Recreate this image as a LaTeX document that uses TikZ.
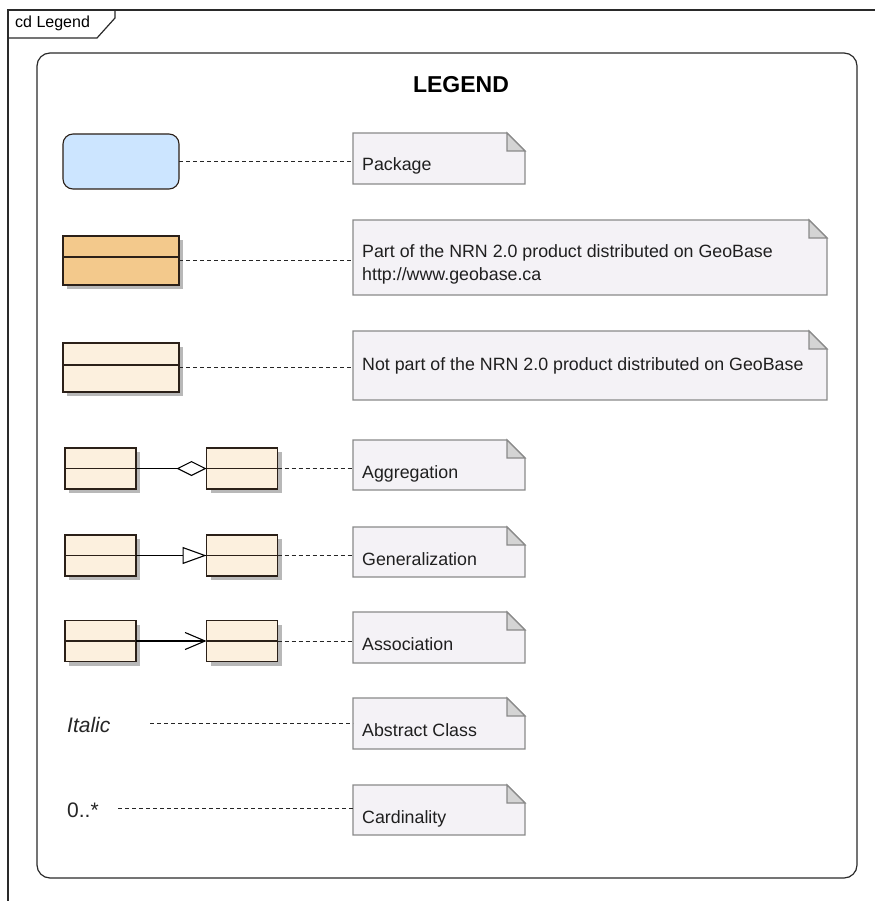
\documentclass[tikz,border=0pt]{standalone}
\usepackage{fontspec}
\setmainfont{Liberation Sans}
\usetikzlibrary{arrows.meta,shadows}
\definecolor{notefill}{HTML}{F4F2F6}
\definecolor{noteline}{HTML}{8A8A8A}
\definecolor{foldfill}{HTML}{D4D4D4}
\definecolor{pkgfill}{HTML}{CCE5FF}
\definecolor{orangefill}{HTML}{F3C98C}
\definecolor{creamfill}{HTML}{FCF0DE}
\definecolor{framecol}{HTML}{2A2A2A}
\definecolor{classline}{HTML}{2B2018}
\tikzset{
  frameline/.style={draw=framecol, line width=1.2pt},
  classbox/.style={draw=classline, line width=1.1pt, inner sep=0pt, outer sep=0pt,
     drop shadow={shadow xshift=4pt, shadow yshift=-4pt, fill=black!28, opacity=1}},
  bigclass/.style={classbox, minimum width=116pt, minimum height=49pt},
  smallclass/.style={classbox, fill=creamfill, minimum width=71pt, minimum height=41pt},
  pkgbox/.style={draw=classline, line width=1.1pt, fill=pkgfill, rounded corners=10pt,
     minimum width=116pt, minimum height=55pt, inner sep=0pt, outer sep=0pt},
  notebase/.style={inner sep=0pt, outer sep=0pt, minimum height=51pt},
  smallnote/.style={notebase, minimum width=172pt},
  bignote/.style={notebase, minimum width=474pt},
  notetext/.style={anchor=base west, inner sep=0pt, font=\fontsize{17.8}{20}\selectfont, text=black!88},
  dashline/.style={draw=black!85, line width=1pt, dash pattern=on 4pt off 3pt},
  relline/.style={draw=black, line width=1.1pt},
}
\newcommand{\drawnote}[1]{%
  \filldraw[fill=notefill, draw=noteline, line width=1.1pt]
    (#1.north west) -- ([xshift=-18pt]#1.north east) -- ([yshift=-18pt]#1.north east)
    -- (#1.south east) -- (#1.south west) -- cycle;
  \filldraw[fill=foldfill, draw=noteline, line width=1.1pt]
    ([xshift=-18pt]#1.north east) -- ([xshift=-18pt,yshift=-18pt]#1.north east)
    -- ([yshift=-18pt]#1.north east) -- cycle;}
\begin{document}
\begin{tikzpicture}[x=1pt,y=-1pt]
\useasboundingbox (0,0) rectangle (875,901);
\fill[white] (0,0) rectangle (875,901);
% outer frame
\draw[frameline] (8,901) -- (8,10) -- (875,10);
\draw[frameline] (8,38) -- (97,38) -- (115,18) -- (115,10);
\node[anchor=base west, inner sep=0pt, font=\fontsize{16}{18}\selectfont] (tab) at (15,28) {cd Legend};
% inner legend
\draw[frameline, rounded corners=13pt] (37,53) rectangle (857,878);
\node[font=\bfseries\fontsize{23}{26}\selectfont, inner sep=0pt] (title) at (461,85) {LEGEND};

% notes
\node[smallnote] (n1) at (439,158.5) {};
\node[bignote, minimum height=75pt] (n2) at (590,257.5) {};
\node[bignote, minimum height=69pt] (n3) at (590,365.5) {};
\node[smallnote, minimum height=50pt] (n4) at (439,465) {};
\node[smallnote, minimum height=50pt] (n5) at (439,552) {};
\node[smallnote] (n6) at (439,637.5) {};
\node[smallnote] (n7) at (439,723.5) {};
\node[smallnote, minimum height=50pt] (n8) at (439,810) {};
\drawnote{n1}\drawnote{n2}\drawnote{n3}\drawnote{n4}
\drawnote{n5}\drawnote{n6}\drawnote{n7}\drawnote{n8}
\node[notetext] at ([shift={(9,38)}]n1.north west) {Package};
\node[notetext] at ([shift={(9,37)}]n2.north west) {Part of the NRN 2.0 product distributed on GeoBase};
\node[notetext] at ([shift={(9,60)}]n2.north west) {http://www.geobase.ca};
\node[notetext] at ([shift={(9,39)}]n3.north west) {Not part of the NRN 2.0 product distributed on GeoBase};
\node[notetext] at ([shift={(9,38)}]n4.north west) {Aggregation};
\node[notetext] at ([shift={(9,38)}]n5.north west) {Generalization};
\node[notetext] at ([shift={(9,38)}]n6.north west) {Association};
\node[notetext] at ([shift={(9,38)}]n7.north west) {Abstract Class};
\node[notetext] at ([shift={(9,38)}]n8.north west) {Cardinality};

% package and big classes
\node[pkgbox] (pkg) at (121,161.5) {};
\node[bigclass, fill=orangefill] (orange) at (121,260.5) {};
\draw[classline, line width=1.1pt] ([yshift=-21pt]orange.north west) -- ([yshift=-21pt]orange.north east);
\node[bigclass, fill=creamfill] (cream) at (121,367.5) {};
\draw[classline, line width=1.1pt] ([yshift=-22pt]cream.north west) -- ([yshift=-22pt]cream.north east);

% small classes
\node[smallclass] (aggL) at (100.5,468.5) {};
\node[smallclass] (aggR) at (242,468.5) {};
\node[smallclass] (genL) at (100.5,555.5) {};
\node[smallclass] (genR) at (242,555.5) {};
\node[smallclass] (assL) at (100.5,641) {};
\node[smallclass] (assR) at (242,641) {};
\foreach \c in {aggL,aggR,genL,genR,assL,assR}
  \draw[classline, line width=1.1pt] (\c.west) -- (\c.east);

% relations
\draw[relline, -{Diamond[open, fill=white, length=30pt, width=15pt]}] (aggL.east) -- (aggR.west);
\draw[relline, -{Triangle[open, fill=white, length=24pt, width=17pt]}] (genL.east) -- (genR.west);
\draw[relline, -{Straight Barb[length=20pt, width=17pt, line width=1.1pt]}] (assL.east) -- (assR.west);

% italic and cardinality
\node[anchor=base west, inner sep=0pt, font=\itshape\fontsize{21}{23}\selectfont, text=black!85] (ital) at (67,732) {Italic};
\node[anchor=base west, inner sep=0pt, font=\fontsize{21}{23}\selectfont, text=black!85] (card) at (67,817) {0..*};
\coordinate (italend) at (150,723);
\coordinate (cardend) at (118,808);

% dashed connectors
\draw[dashline] (pkg.east) -- (pkg.east -| n1.west);
\draw[dashline] (orange.east) -- (orange.east -| n2.west);
\draw[dashline] (cream.east) -- (cream.east -| n3.west);
\draw[dashline] (aggR.east) -- (aggR.east -| n4.west);
\draw[dashline] (genR.east) -- (genR.east -| n5.west);
\draw[dashline] (assR.east) -- (assR.east -| n6.west);
\draw[dashline] (italend) -- (italend -| n7.west);
\draw[dashline] (cardend) -- (cardend -| n8.west);
\end{tikzpicture}
\end{document}
